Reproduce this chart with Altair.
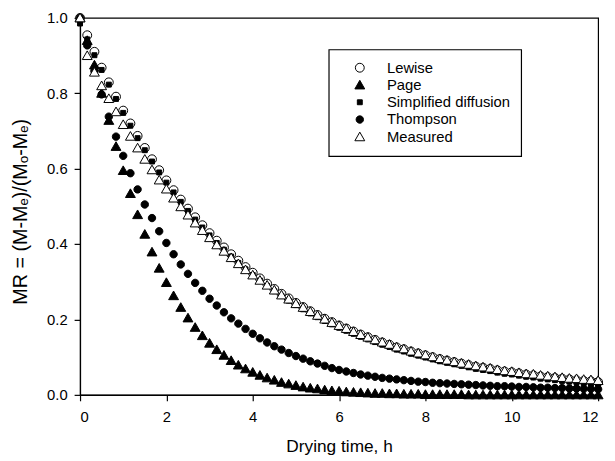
import altair as alt
import pandas as pd

time_min = [0, 10, 20, 30, 40, 50, 60, 70, 80, 90,
            100, 110, 120, 130, 140, 150, 160, 170, 180, 190,
            200, 210, 220, 230, 240, 250, 260, 270, 280, 290,
            300, 310, 320, 330, 340, 350, 360, 370, 380, 390,
            400, 410, 420, 430, 440, 450, 460, 470, 480, 490,
            500, 510, 520, 530, 540, 550, 560, 570, 580, 590,
            600, 610, 620, 630, 640, 650, 660, 670, 680, 690,
            700, 710, 720]

lewise = [1.000, 0.954, 0.910, 0.868, 0.829, 0.791, 0.754, 0.720, 0.687, 0.655,
          0.625, 0.596, 0.569, 0.543, 0.518, 0.494, 0.471, 0.450, 0.429, 0.409,
          0.391, 0.373, 0.356, 0.339, 0.324, 0.309, 0.295, 0.281, 0.268, 0.256,
          0.244, 0.233, 0.222, 0.212, 0.202, 0.193, 0.184, 0.176, 0.168, 0.160,
          0.153, 0.146, 0.139, 0.133, 0.126, 0.121, 0.115, 0.110, 0.105, 0.100,
          0.095, 0.091, 0.087, 0.083, 0.079, 0.075, 0.072, 0.069, 0.065, 0.062,
          0.060, 0.057, 0.054, 0.052, 0.049, 0.047, 0.045, 0.043, 0.041, 0.039,
          0.037, 0.036, 0.034]

page = [1.000, 0.940, 0.875, 0.800, 0.728, 0.659, 0.595, 0.534, 0.478, 0.426,
        0.379, 0.336, 0.298, 0.263, 0.232, 0.204, 0.179, 0.157, 0.137, 0.120,
        0.105, 0.091, 0.079, 0.069, 0.060, 0.052, 0.045, 0.039, 0.033, 0.029,
        0.025, 0.021, 0.018, 0.016, 0.013, 0.011, 0.010, 0.008, 0.007, 0.006,
        0.005, 0.004, 0.004, 0.003, 0.003, 0.002, 0.002, 0.002, 0.001, 0.001,
        0.001, 0.001, 0.001, 0.001, 0.000, 0.000, 0.000, 0.000, 0.000, 0.000,
        0.000, 0.000, 0.000, 0.000, 0.000, 0.000, 0.000, 0.000, 0.000, 0.000,
        0.000, 0.000, 0.000]

simplified = [0.985, 0.943, 0.901, 0.862, 0.823, 0.785, 0.748, 0.714, 0.681, 0.649,
              0.619, 0.590, 0.563, 0.537, 0.512, 0.488, 0.465, 0.444, 0.423, 0.403,
              0.385, 0.367, 0.350, 0.333, 0.318, 0.303, 0.289, 0.275, 0.262, 0.250,
              0.238, 0.227, 0.216, 0.206, 0.196, 0.187, 0.178, 0.170, 0.162, 0.154,
              0.147, 0.140, 0.133, 0.127, 0.120, 0.115, 0.109, 0.104, 0.099, 0.094,
              0.089, 0.085, 0.081, 0.077, 0.073, 0.069, 0.066, 0.063, 0.059, 0.056,
              0.054, 0.051, 0.048, 0.046, 0.043, 0.041, 0.039, 0.037, 0.035, 0.033,
              0.031, 0.030, 0.028]

thompson = [1.000, 0.927, 0.859, 0.797, 0.738, 0.685, 0.634, 0.588, 0.545, 0.505,
            0.469, 0.434, 0.403, 0.373, 0.346, 0.321, 0.297, 0.276, 0.255, 0.237,
            0.219, 0.203, 0.189, 0.175, 0.162, 0.150, 0.139, 0.129, 0.120, 0.111,
            0.103, 0.096, 0.089, 0.083, 0.077, 0.071, 0.066, 0.062, 0.058, 0.054,
            0.051, 0.048, 0.045, 0.043, 0.041, 0.039, 0.037, 0.035, 0.034, 0.032,
            0.031, 0.030, 0.029, 0.028, 0.027, 0.026, 0.025, 0.024, 0.023, 0.023,
            0.022, 0.021, 0.021, 0.020, 0.019, 0.019, 0.018, 0.018, 0.017, 0.017,
            0.016, 0.016, 0.015]

measured = [1.000, 0.900, 0.856, 0.820, 0.786, 0.751, 0.717, 0.686, 0.655, 0.625,
            0.597, 0.570, 0.546, 0.522, 0.499, 0.477, 0.456, 0.436, 0.417, 0.398,
            0.381, 0.364, 0.348, 0.332, 0.318, 0.304, 0.291, 0.278, 0.265, 0.254,
            0.242, 0.232, 0.221, 0.211, 0.201, 0.192, 0.184, 0.176, 0.168, 0.160,
            0.153, 0.146, 0.140, 0.134, 0.127, 0.122, 0.116, 0.111, 0.106, 0.101,
            0.096, 0.092, 0.088, 0.084, 0.081, 0.077, 0.074, 0.071, 0.067, 0.064,
            0.062, 0.059, 0.056, 0.055, 0.052, 0.050, 0.048, 0.046, 0.044, 0.043,
            0.041, 0.040, 0.038]

series_names = ["Lewise", "Page", "Simplified diffusion", "Thompson", "Measured"]
draw_order = ["Lewise", "Simplified diffusion", "Thompson", "Page", "Measured"]

# symbol outlines in the unit box [-1, 1] (scaled by the mark size)
OPEN_CIRCLE = "M-0.9,0A0.9,0.9,0,1,0,0.9,0A0.9,0.9,0,1,0,-0.9,0Z"
TRIANGLE = "M0,-0.95L1,0.8L-1,0.8Z"
SMALL_SQUARE = "M-0.5,-0.5L0.5,-0.5L0.5,0.5L-0.5,0.5Z"
DOT = "M-0.75,0A0.75,0.75,0,1,0,0.75,0A0.75,0.75,0,1,0,-0.75,0Z"
series_shapes = [OPEN_CIRCLE, TRIANGLE, SMALL_SQUARE, DOT, TRIANGLE]
series_fills = ["white", "black", "black", "black", "white"]

x_ticks = [0, 2, 4, 6, 8, 10, 12]
y_ticks = [0.0, 0.2, 0.4, 0.6, 0.8, 1.0]

values = {"Lewise": lewise, "Page": page, "Simplified diffusion": simplified,
          "Thompson": thompson, "Measured": measured}
rows = []
for z, name in enumerate(draw_order):
    for t, v in zip(time_min, values[name]):
        rows.append({"t": t / 60.0, "mr": v, "series": name, "z": z})
df = pd.DataFrame(rows)

FONT = "Liberation Sans"

legend = alt.Legend(title=None, orient="none", legendX=252, legendY=32)

chart = alt.Chart(df).mark_point(filled=True, strokeWidth=1, opacity=1, size=100).encode(
    x=alt.X("t:Q", scale=alt.Scale(domain=[0, 12], nice=False, zero=False),
            axis=alt.Axis(values=x_ticks, title="Drying time, h", format="d",
                          titleX=262.5, titleY=52, titleBaseline="middle",
                          titleAlign="center", titleFontSize=17.5, labelPadding=9)),
    y=alt.Y("mr:Q", scale=alt.Scale(domain=[0, 1], nice=False),
            axis=alt.Axis(values=y_ticks, format=".1f",
                          title="MR = (M-M\u2091)/(M\u2092-M\u2091)",
                          titleX=-60, titleY=196, titleAngle=-90,
                          titleBaseline="middle", titleAlign="center",
                          titleFontSize=20, labelPadding=7)),
    shape=alt.Shape("series:N", scale=alt.Scale(domain=series_names, range=series_shapes),
                    legend=legend),
    fill=alt.Fill("series:N", scale=alt.Scale(domain=series_names, range=series_fills),
                  legend=legend),
    stroke=alt.Stroke("series:N", scale=alt.Scale(domain=series_names, range=["black"] * 5),
                      legend=legend),
    order=alt.Order("z:Q"),
).properties(
    width=525, height=382,
    autosize=alt.AutoSizeParams(type="none"),
    padding={"left": 73, "top": 7, "right": 9, "bottom": 64},
).configure_view(
    stroke="black", strokeWidth=1.2,
).configure_axis(
    domainColor="black", domainWidth=1.2, tickColor="black", tickWidth=1.2,
    tickSize=6, labelFont=FONT, labelFontSize=15, labelColor="black",
    titleFont=FONT, titleColor="black", titleFontWeight="normal", grid=False,
).configure_legend(
    strokeColor="black", strokeWidth=1.2, padding=11, symbolOffset=13,
    labelOffset=20, labelFontSize=15, labelFont=FONT, labelColor="black",
    rowPadding=1.5, symbolStrokeWidth=1, labelLimit=300, symbolSize=100,
)

chart.save("out.html", embed_options={"renderer": "svg", "actions": False})
